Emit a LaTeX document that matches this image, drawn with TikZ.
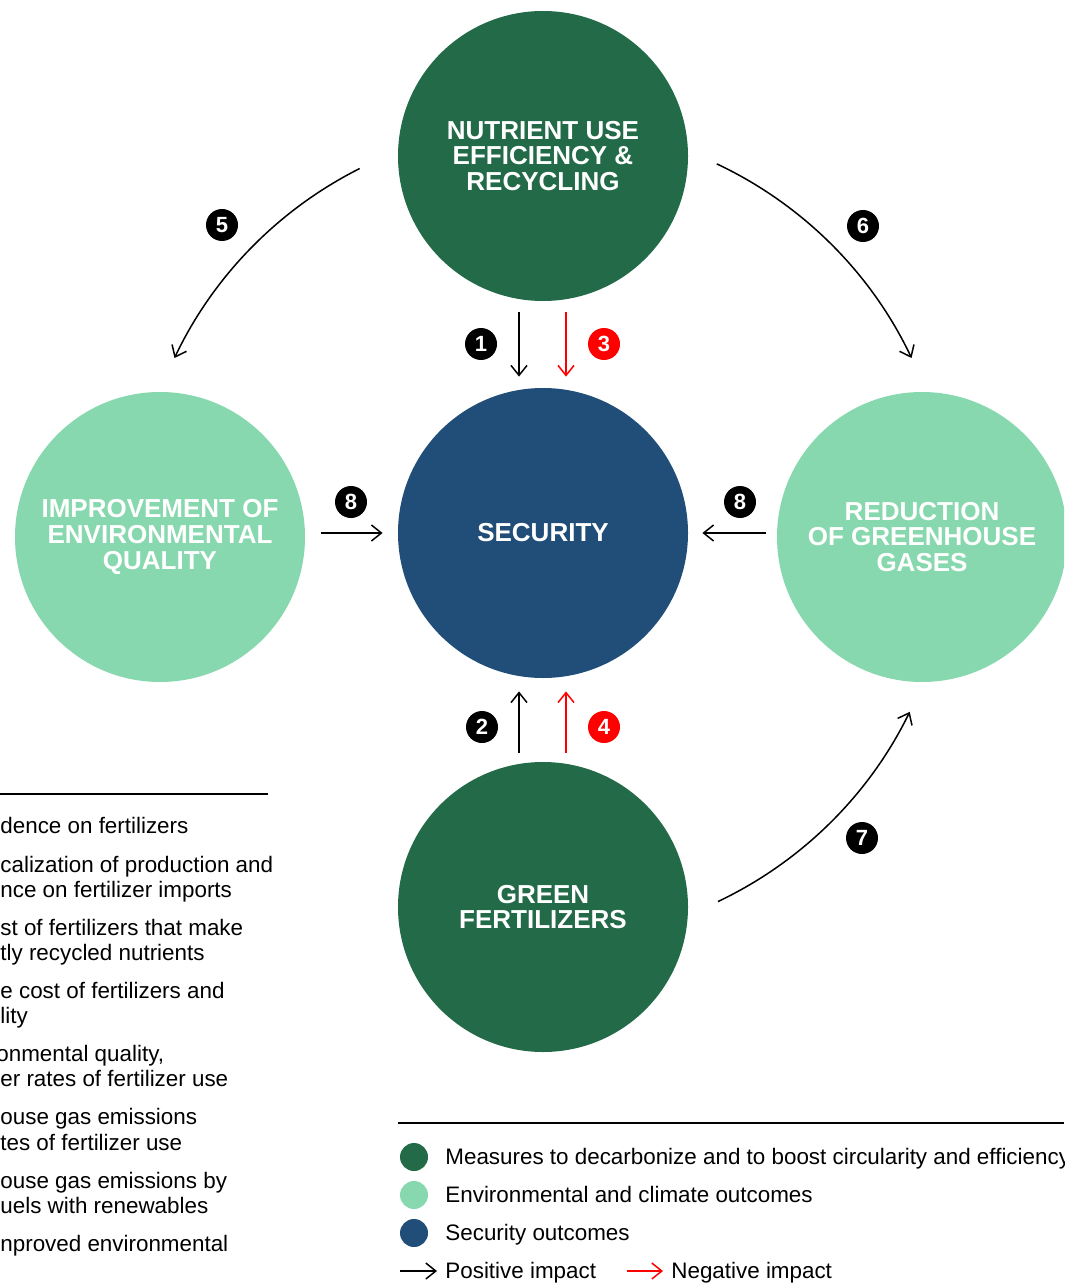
\documentclass[tikz,border=0pt]{standalone}
\usepackage{fontspec}
\setmainfont{Liberation Sans}
\usetikzlibrary{calc}
\usetikzlibrary{arrows.meta}

\definecolor{measgreen}{RGB}{35,107,72}
\definecolor{outgreen}{RGB}{135,216,174}
\definecolor{secblue}{RGB}{33,78,121}
\definecolor{negred}{RGB}{255,0,0}

\begin{document}
\begin{tikzpicture}[x=0.5pt, y=0.5pt,
  topic/.style={circle,minimum size=145pt,inner sep=0pt,fill=#1,text=white,align=center,font=\fontsize{13}{12.8}\selectfont\bfseries},
  num/.style={circle,minimum size=16pt,inner sep=0pt,fill=#1,text=white,font=\fontsize{11}{11}\selectfont\bfseries},
  posarrow/.style={line width=0.75pt,-{Straight Barb[length=5pt,width=8pt]}},
  negarrow/.style={posarrow,draw=negred},
  key/.style={anchor=base west,inner sep=0pt,font=\fontsize{11.2}{13}\selectfont},
  keydot/.style={circle,minimum size=14pt,inner sep=0pt,fill=#1}]

\useasboundingbox (0,0) rectangle (1064,-1283);
\clip (0,0) rectangle (1064,-1283);

\node[topic=measgreen] (nutrient) at (543,-156) {NUTRIENT USE\\EFFICIENCY \&\\RECYCLING};
\node[topic=secblue] (security) at (543,-533) {SECURITY};
\node[topic=outgreen] (improvement) at (160,-537) {IMPROVEMENT OF\\ENVIRONMENTAL\\QUALITY};
\node[topic=outgreen] (reduction) at (922,-537) {REDUCTION\\OF GREENHOUSE\\GASES};
\node[topic=measgreen] (green) at (543,-907) {GREEN\\FERTILIZERS};

\node[num=black] (n1) at (481,-344) {1};
\node[num=negred] (n3) at (604,-344) {3};
\node[num=black] (n2) at (482,-727) {2};
\node[num=negred] (n4) at (604,-727) {4};
\node[num=black] (n8l) at (351,-502) {8};
\node[num=black] (n8r) at (740,-502) {8};
\node[num=black] (n5) at (222,-225) {5};
\node[num=black] (n6) at (863,-226) {6};
\node[num=black] (n7) at (862,-838) {7};

\draw[posarrow] ([shift={(-24,-11)}]nutrient.south) -- ([shift={(-24,11)}]security.north);
\draw[negarrow] ([shift={(23,-11)}]nutrient.south) -- ([shift={(23,11)}]security.north);
\draw[posarrow] ([shift={(-24,9)}]green.north) -- ([shift={(-24,-13)}]security.south);
\draw[negarrow] ([shift={(23,9)}]green.north) -- ([shift={(23,-13)}]security.south);
\draw[posarrow] ([shift={(16,0)}]improvement.east |- security.west) -- ([shift={(-15,0)}]security.west);
\draw[posarrow] ([shift={(-11,0)}]reduction.west |- security.east) -- ([shift={(14,0)}]security.east);

\coordinate (c5) at ($(security.center)+(116.7:408)$);
\coordinate (c6) at ($(security.center)+(64.8:408)$);
\coordinate (c7) at ($(security.center)+(-64.6:408)$);
\draw[posarrow] (c5) arc[start angle=116.7, end angle=154.6, radius=408];
\draw[posarrow] (c6) arc[start angle=64.8, end angle=25.4, radius=408];
\draw[posarrow] (c7) arc[start angle=-64.6, end angle=-26, radius=408];

\draw[line width=1pt] (0,-794) -- (268,-794);
\node[key] (l1) at (0,-833) {dence on fertilizers};
\node[key] (l2a) at (0,-872) {calization of production and};
\node[key] (l2b) at (0,-897) {nce on fertilizer imports};
\node[key] (l3a) at (0,-935) {st of fertilizers that make};
\node[key] (l3b) at (0,-960) {tly recycled nutrients};
\node[key] (l4a) at (0,-998) {e cost of fertilizers and};
\node[key] (l4b) at (0,-1023) {lity};
\node[key] (l5a) at (-4,-1061) {onmental quality,};
\node[key] (l5b) at (0,-1086) {er rates of fertilizer use};
\node[key] (l6a) at (0,-1124) {ouse gas emissions};
\node[key] (l6b) at (0,-1150) {tes of fertilizer use};
\node[key] (l7a) at (0,-1188) {ouse gas emissions by};
\node[key] (l7b) at (0,-1213) {uels with renewables};
\node[key] (l8) at (0,-1251) {nproved environmental};

\draw[line width=1pt] (398,-1123) -- (1064,-1123);
\node[keydot=measgreen] (d1) at (414,-1157) {};
\node[keydot=outgreen] (d2) at (414,-1195) {};
\node[keydot=secblue] (d3) at (414,-1233) {};
\node[key] (k1) at (445,-1164) {Measures to decarbonize and to boost circularity and efficiency};
\node[key] (k2) at (445,-1202) {Environmental and climate outcomes};
\node[key] (k3) at (445,-1240) {Security outcomes};
\coordinate (pa) at (400,-1271);
\coordinate (pb) at (437,-1271);
\coordinate (na) at (627,-1271);
\coordinate (nb) at (663,-1271);
\draw[posarrow] (pa) -- (pb);
\draw[negarrow] (na) -- (nb);
\node[key] (k4) at (445,-1278) {Positive impact};
\node[key] (k5) at (671,-1278) {Negative impact};
\end{tikzpicture}
\end{document}
